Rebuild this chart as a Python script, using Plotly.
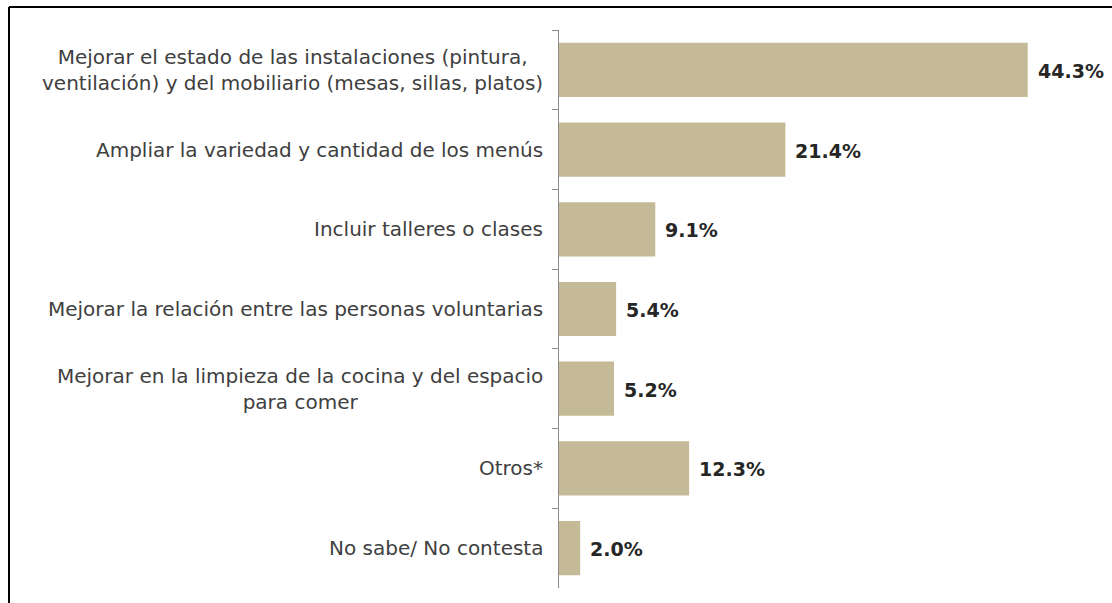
import plotly.graph_objects as go

categories = [
    "Mejorar el estado de las instalaciones (pintura,<br>ventilación) y del mobiliario (mesas, sillas, platos)",
    "Ampliar la variedad y cantidad de los menús",
    "Incluir talleres o clases",
    "Mejorar la relación entre las personas voluntarias",
    "Mejorar en la limpieza de la cocina y del espacio<br>para comer",
    "Otros*",
    "No sabe/ No contesta",
]
values = [44.3, 21.4, 9.1, 5.4, 5.2, 12.3, 2.0]
value_labels = ["44.3%", "21.4%", "9.1%", "5.4%", "5.2%", "12.3%", "2.0%"]

W, H = 1112, 603
L, R, T, B = 559, 24, 30, 15

fig = go.Figure(go.Bar(
    y=categories, x=values, orientation="h",
    marker=dict(color="#C5BA98", line=dict(width=0)),
    hoverinfo="skip",
))

annotations = []
for c, v, lab in zip(categories, values, value_labels):
    annotations.append(dict(
        x=v, y=c, xref="x", yref="y", text=f"<b>{lab}</b>", showarrow=False,
        xanchor="left", xshift=8, yshift=-1,
        font=dict(family="DejaVu Sans", size=19, color="#262626"),
    ))
    annotations.append(dict(
        x=0, y=c, xref="x", yref="y", text=c, showarrow=False,
        xanchor="right", xshift=-14, yshift=0, align="center",
        font=dict(family="DejaVu Sans", size=20, color="#404040"),
    ))

pw = W - L - R
ph = H - T - B
x_left = (9 - L) / pw
x_right = (W - L) / pw
y_top = (H - B - 7) / ph

shapes = [
    dict(type="line", xref="paper", yref="paper", x0=x_left, x1=x_left, y0=-1, y1=y_top,
         line=dict(color="#000000", width=2)),
    dict(type="line", xref="paper", yref="paper", x0=x_left, x1=x_right, y0=y_top, y1=y_top,
         line=dict(color="#000000", width=2)),
]

fig.update_layout(
    width=W, height=H,
    margin=dict(l=L, r=R, t=T, b=B),
    paper_bgcolor="white", plot_bgcolor="white",
    bargap=0.32,
    showlegend=False,
    annotations=annotations,
    shapes=shapes,
    xaxis=dict(range=[0, 50], visible=False, fixedrange=True),
    yaxis=dict(autorange="reversed", showticklabels=False, showline=True,
               linecolor="#8C8C8C", linewidth=1, ticks="outside", tickson="boundaries",
               ticklen=6, tickcolor="#8C8C8C", showgrid=False, fixedrange=True),
)

fig.write_html(
    "out.html",
    config={"displayModeBar": False},
    post_script="document.body.style.margin='0';document.body.style.overflow='hidden';",
)
